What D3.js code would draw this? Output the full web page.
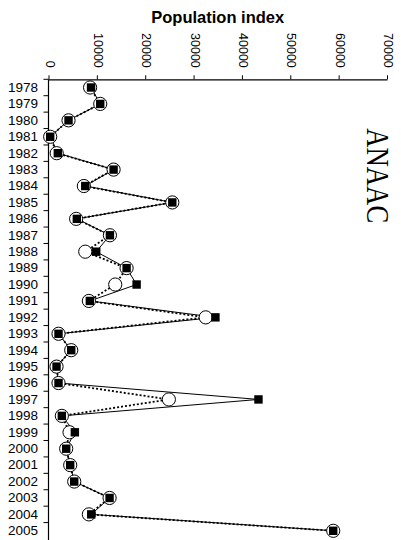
<!DOCTYPE html>
<html>
<head>
<meta charset="utf-8">
<script src="https://cdn.jsdelivr.net/npm/d3@7"></script>
<style>
  html, body { margin: 0; padding: 0; background: #fff; }
  svg { display: block; }
</style>
</head>
<body>
<svg id="chart" width="401" height="540"></svg>
<script>
// Survey years (one band per year)
const years = [1978, 1979, 1980, 1981, 1982, 1983, 1984, 1985, 1986, 1987,
               1988, 1989, 1990, 1991, 1992, 1993, 1994, 1995, 1996, 1997,
               1998, 1999, 2000, 2001, 2002, 2003, 2004, 2005];

// Index series drawn with filled squares and a solid line
const squareIndex = [8800, 10700, 4140, 350, 1930, 13460, 7600, 25600, 5860, 12700,
                     9870, 16150, 18220, 8550, 34520, 2070, 4700, 1660, 2070, 43420,
                     2760, 5450, 3660, 4490, 5320, 12630, 8840, 58880];

// Index series drawn with open circles and a dotted line
const circleIndex = [8600, 10700, 4140, 350, 1700, 13460, 7310, 25600, 5720, 12700,
                     7600, 16150, 13800, 8350, 32510, 2070, 4700, 1660, 2070, 24890,
                     2760, 4350, 3660, 4490, 5320, 12630, 8350, 58880];

const indexTicks = [0, 10000, 20000, 30000, 40000, 50000, 60000, 70000];
const axisTitle = "Population index";
const panelLabel = "ANAAC";

const svg = d3.select("#chart");
const sans = "'Liberation Sans', Arial, Helvetica, sans-serif";

const plotLeft = 48.5, plotRight = 387, plotTop = 79.3, plotBottom = 539;

const x = d3.scaleLinear().domain([0, 70000]).range([plotLeft, plotRight]);
const y = d3.scaleBand().domain(years).range([plotTop, plotBottom]).paddingInner(0).paddingOuter(0);
const yc = d => y(d) + y.bandwidth() / 2;

// Top value axis
const gx = svg.append("g")
  .attr("transform", `translate(0,${plotTop})`)
  .call(d3.axisTop(x).tickValues(indexTicks).tickSize(4).tickSizeOuter(0).tickFormat(d3.format("d")));
gx.select(".domain").attr("stroke", "#000").attr("stroke-width", 1.2);
gx.selectAll(".tick line").attr("stroke", "#000").attr("stroke-width", 1);
gx.selectAll(".tick text")
  .attr("font-family", sans)
  .attr("font-size", 12.5)
  .attr("fill", "#000")
  .attr("text-anchor", "end")
  .attr("x", 0).attr("y", 0)
  .attr("dy", "0.27em")
  .attr("transform", "translate(0,-11.5) rotate(90)");

// Left year axis: labels centred on bands, ticks on band edges
const gy = svg.append("g")
  .attr("transform", `translate(${plotLeft},0)`)
  .call(d3.axisLeft(y).tickSize(0).tickPadding(10.5));
gy.select(".domain").remove();
gy.selectAll(".tick text")
  .attr("font-family", sans)
  .attr("font-size", 13.5)
  .attr("fill", "#000");

const edges = years.map(d => y(d));
svg.append("g").selectAll("line")
  .data(edges)
  .join("line")
  .attr("x1", plotLeft - 5).attr("x2", plotLeft)
  .attr("y1", d => d).attr("y2", d => d)
  .attr("stroke", "#000").attr("stroke-width", 1);
svg.append("line")
  .attr("x1", plotLeft).attr("x2", plotLeft)
  .attr("y1", plotTop).attr("y2", plotBottom + 1)
  .attr("stroke", "#000").attr("stroke-width", 1.2);

// Axis title
svg.append("text")
  .attr("x", (plotLeft + plotRight) / 2)
  .attr("y", 23)
  .attr("text-anchor", "middle")
  .attr("font-family", sans)
  .attr("font-weight", "bold")
  .attr("font-size", 16.5)
  .attr("fill", "#000")
  .text(axisTitle);

// Panel label, rotated
svg.append("text")
  .attr("transform", "translate(366.5,128.3) rotate(90) scale(1,1.18)")
  .attr("font-family", "'Liberation Serif', 'Times New Roman', serif")
  .attr("font-size", 26.7)
  .attr("fill", "#000")
  .text(panelLabel);

const squareData = years.map((yr, i) => ({ yr, v: squareIndex[i] }));
const circleData = years.map((yr, i) => ({ yr, v: circleIndex[i] }));

const line = d3.line().x(d => x(d.v)).y(d => yc(d.yr));

// Solid line through the square series
svg.append("path")
  .datum(squareData)
  .attr("d", line)
  .attr("fill", "none")
  .attr("stroke", "#000")
  .attr("stroke-width", 1);

// Dotted line through the circle series
svg.append("path")
  .datum(circleData)
  .attr("d", line)
  .attr("fill", "none")
  .attr("stroke", "#000")
  .attr("stroke-width", 1.8)
  .attr("stroke-dasharray", "2,2");

// Open circles
svg.append("g").selectAll("circle")
  .data(circleData)
  .join("circle")
  .attr("cx", d => x(d.v))
  .attr("cy", d => yc(d.yr))
  .attr("r", 6.6)
  .attr("fill", "#fff")
  .attr("stroke", "#000")
  .attr("stroke-width", 1);

// Filled squares
const sq = 8.4;
svg.append("g").selectAll("rect")
  .data(squareData)
  .join("rect")
  .attr("x", d => x(d.v) - sq / 2)
  .attr("y", d => yc(d.yr) - sq / 2)
  .attr("width", sq)
  .attr("height", sq)
  .attr("fill", "#000");
</script>
</body>
</html>
